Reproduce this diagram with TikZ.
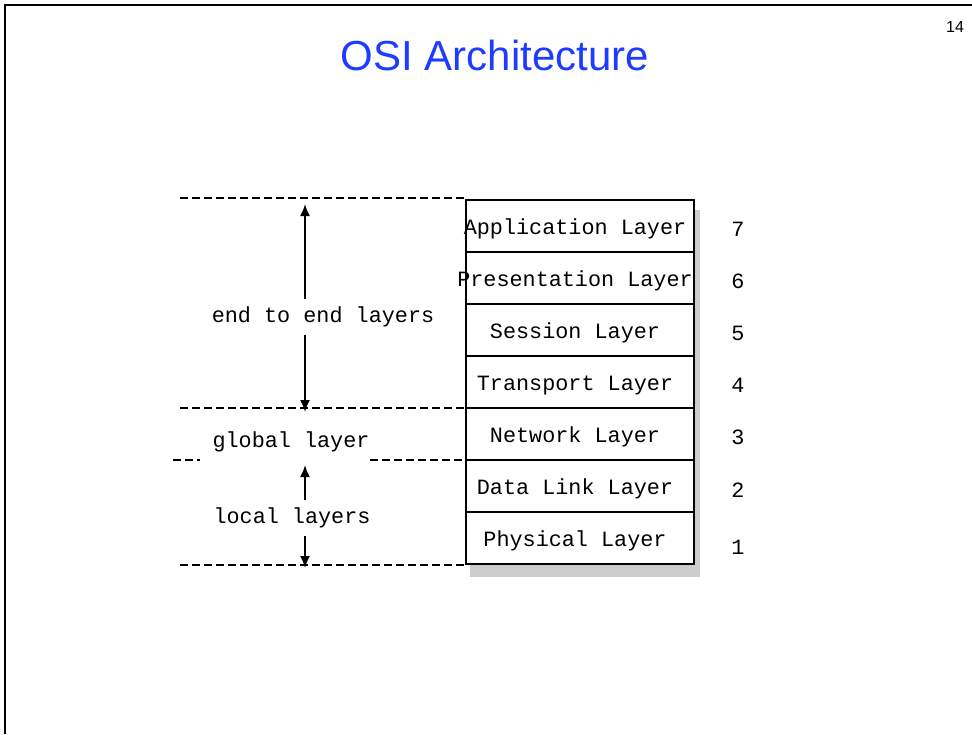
\documentclass[tikz,border=0pt]{standalone}
\usepackage{fontspec}
\setmainfont{Liberation Sans}
\setmonofont{Liberation Mono}
\usetikzlibrary{arrows.meta}
\definecolor{osiblue}{RGB}{30,60,255}

\begin{document}
\begin{tikzpicture}[x=0.5pt,y=-0.5pt,
    every node/.style={font=\ttfamily\fontsize{10.9}{13}\selectfont},
    layerbox/.style={draw,fill=white,line width=1.2pt,minimum width=114pt,minimum height=26pt,inner sep=0pt,
        label={[yshift=-1.5pt,xshift=-2.5pt]center:#1}},
    sepline/.style={dash pattern=on 4pt off 2pt,line width=0.9pt},
    span/.style={line width=0.9pt,-{Latex[length=6pt,width=5pt]}},
    gaptext/.style={minimum height=18pt,inner sep=0pt}]
    \useasboundingbox (0,0) rectangle (972,734);
    % slide frame and title
    \draw[line width=1pt] (5,734) -- (5,5) -- (972,5);
    \node[font=\fontsize{21}{25}\selectfont,text=osiblue] (title) at (495,55) {OSI Architecture};
    \node[font=\fontsize{8}{9}\selectfont] (page) at (955,27) {14};

    % shadow behind the stack
    \fill[black!20] (470,210) rectangle (700,577);

    % the seven layers
    \node[layerbox=Application Layer] (app) at (580,226) {};
    \node[layerbox=Presentation Layer] (pres) at (580,278) {};
    \node[layerbox=Session Layer] (sess) at (580,330) {};
    \node[layerbox=Transport Layer] (trans) at (580,382) {};
    \node[layerbox=Network Layer] (net) at (580,434) {};
    \node[layerbox=Data Link Layer] (link) at (580,486) {};
    \node[layerbox=Physical Layer] (phys) at (580,538) {};

    \node (n7) at (738,229) {7};
    \node (n6) at (738,281) {6};
    \node (n5) at (738,333) {5};
    \node (n4) at (738,385) {4};
    \node (n3) at (738,437) {3};
    \node (n2) at (738,490) {2};
    \node (n1) at (738,547) {1};

    % dashed separators
    \coordinate (d1) at (180,198);
    \coordinate (d2) at (180,408);
    \coordinate (d3a) at (173,460);
    \coordinate (d3b) at (200,460);
    \coordinate (d3c) at (370,460);
    \coordinate (d4) at (180,565);
    \draw[sepline] (d1) -- (d1 -| app.west);
    \draw[sepline] (d2) -- (d2 -| net.west);
    \draw[sepline] (d3a) -- (d3b);
    \draw[sepline] (d3c) -- (d3c -| link.west);
    \draw[sepline] (d4) -- (d4 -| phys.west);

    % layer groups
    \node[gaptext] (e2e) at (323,317) {end to end layers};
    \coordinate (e2etop) at (305,204);
    \coordinate (e2ebot) at (305,412);
    \draw[span] (e2etop |- e2e.north) -- (e2etop);
    \draw[span] (e2ebot |- e2e.south) -- (e2ebot);

    \node (glob) at (291,442) {global layer};

    \node[gaptext] (loc) at (292,518) {local layers};
    \coordinate (loctop) at (305,465);
    \coordinate (locbot) at (305,568);
    \draw[span] (loctop |- loc.north) -- (loctop);
    \draw[span] (locbot |- loc.south) -- (locbot);
\end{tikzpicture}
\end{document}
